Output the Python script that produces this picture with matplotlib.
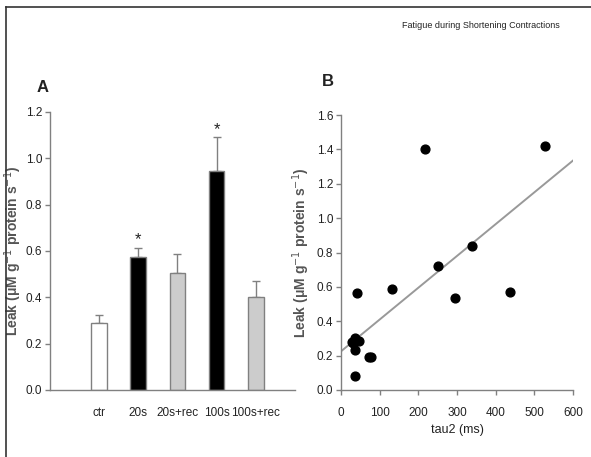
import matplotlib
matplotlib.use('Agg')
import matplotlib.pyplot as plt
import numpy as np
from matplotlib.lines import Line2D

plt.rcParams['font.family'] = ['Liberation Sans', 'DejaVu Sans']

# --- panel A data ---
groups = ['ctr', '20s', '20s+rec', '100s', '100s+rec']
leak = [0.29, 0.575, 0.505, 0.945, 0.40]
leak_err = [0.035, 0.04, 0.08, 0.145, 0.07]
bar_colors = ['white', 'black', '#cccccc', 'black', '#cccccc']
significant = [False, True, False, True, False]

# --- panel B data ---
tau2 = [218, 527, 338, 250, 295, 438, 133, 42, 29, 32, 47, 36, 37, 72, 78, 37]
leak_b = [1.40, 1.42, 0.84, 0.72, 0.537, 0.572, 0.588, 0.562, 0.28, 0.275,
          0.285, 0.233, 0.08, 0.19, 0.19, 0.30]
fit_intercept = 0.225
fit_slope = 0.00185

ylab = 'Leak (μM g$^{-1}$ protein s$^{-1}$)'
gray = '#808080'
txt = '#222222'

fig = plt.figure(figsize=(5.91, 4.57), dpi=100)

# frame lines (top and left)
fig.add_artist(Line2D([6/591, 1], [1 - 7/457, 1 - 7/457], color='#333333', lw=1.2))
fig.add_artist(Line2D([6/591, 6/591], [0, 1 - 7/457], color='#333333', lw=1.2))
fig.text(560/591, 1 - 26/457, 'Fatigue during Shortening Contractions',
         ha='right', va='center', fontsize=6.5, color=txt)

def style(ax):
    for s in ['top', 'right']:
        ax.spines[s].set_visible(False)
    for s in ['left', 'bottom']:
        ax.spines[s].set_color(gray)
        ax.spines[s].set_linewidth(1.0)
    ax.tick_params(colors=gray, labelcolor=txt, labelsize=8.5, length=3.5, width=1.0)
    ax.tick_params(axis='y', pad=2)

# panel A
axA = fig.add_axes([50/591, 67/457, 245/591, 278/457])
x = np.arange(len(groups))
axA.bar(x, leak, width=0.4, color=bar_colors, edgecolor=gray, linewidth=1.0, zorder=2)
axA.errorbar(x, leak, yerr=[np.zeros(len(leak)), leak_err], fmt='none',
             ecolor=gray, elinewidth=1.0, capsize=3, capthick=1.0, zorder=1)
for xi, v, e, sig in zip(x, leak, leak_err, significant):
    if sig:
        axA.text(xi, v + e + 0.035, '*', ha='center', va='center', fontsize=12, color=txt)
axA.set_xlim(-1.25, 5.0)
axA.set_ylim(0, 1.2)
axA.set_yticks(np.arange(0, 1.21, 0.2))
axA.set_yticklabels([f'{v:.1f}' for v in np.arange(0, 1.21, 0.2)])
axA.set_xticks(x)
axA.set_xticklabels(groups, fontsize=8)
style(axA)
axA.tick_params(axis='x', length=0, pad=12)
axA.set_ylabel(ylab, fontsize=10, fontweight='bold', color='#555555')
axA.yaxis.set_label_coords(-0.105, 0.5)
fig.text(43/591, 1 - 88/457, 'A', fontsize=12, fontweight='bold', ha='center',
         va='center', color=txt)

# panel B
axB = fig.add_axes([341/591, 67/457, 232/591, 275/457])
axB.scatter(tau2, leak_b, s=40, color='black', zorder=3)
xl = np.array([0, 600])
axB.plot(xl, fit_intercept + fit_slope * xl, color='#999999', lw=1.4, zorder=2)
axB.set_xlim(0, 600)
axB.set_ylim(0, 1.6)
axB.set_xticks(np.arange(0, 601, 100))
axB.set_yticks(np.arange(0, 1.61, 0.2))
axB.set_yticklabels([f'{v:.1f}' for v in np.arange(0, 1.61, 0.2)])
style(axB)
axB.tick_params(axis='x', pad=9)
axB.set_xlabel('tau2 (ms)', fontsize=9, color=txt, labelpad=3)
axB.set_ylabel(ylab, fontsize=10, fontweight='bold', color='#555555')
axB.yaxis.set_label_coords(-0.125, 0.5)
fig.text(328/591, 1 - 82/457, 'B', fontsize=12, fontweight='bold', ha='center',
         va='center', color=txt)

fig.savefig('out.png', dpi=100)
